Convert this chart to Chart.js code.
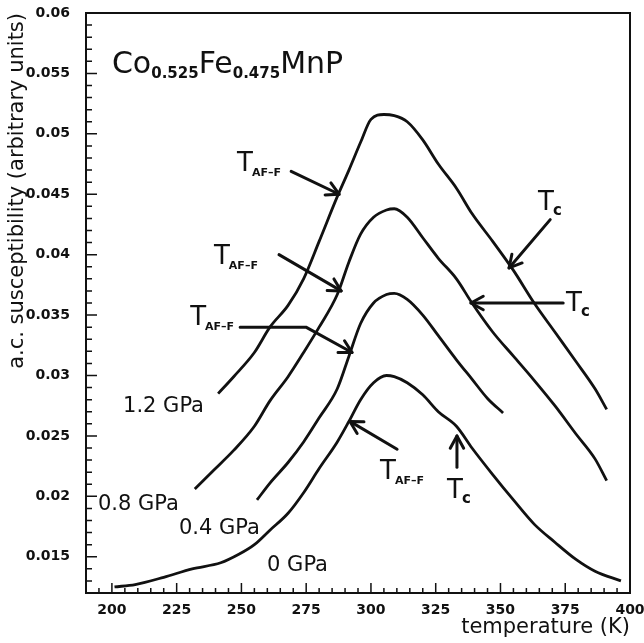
<!DOCTYPE html>
<html>
<head>
<meta charset="utf-8">
<script src="https://cdn.jsdelivr.net/npm/chart.js@4.4.1/dist/chart.umd.min.js"></script>
<style>
  html, body { margin: 0; padding: 0; background: #fff; }
  #wrap { width: 644px; height: 643px; position: relative; }
</style>
</head>
<body>
<div id="wrap"><canvas id="chart"></canvas></div>
<script>
// temperature (K) and a.c. susceptibility, one pair per pressure
const temp0GPa = [201, 209, 220, 231, 242, 249, 255, 261, 268, 274, 280, 287, 291.5, 296, 301, 306, 309, 314, 320, 326, 333, 339, 347, 355, 363, 371, 379, 386.5, 396.5];
const chi0GPa  = [0.0125, 0.0127, 0.0133, 0.0140, 0.0145, 0.0152, 0.0160, 0.0172, 0.0186, 0.0203, 0.0223, 0.0245, 0.0262, 0.0280, 0.0294, 0.0300, 0.0299, 0.0294, 0.0284, 0.0270, 0.0258, 0.0240, 0.0218, 0.0197, 0.0177, 0.0162, 0.0148, 0.0138, 0.0130];

const temp04GPa = [256, 261, 268, 274, 280, 287, 291.5, 296, 301, 306, 309, 314, 320, 326, 333, 339, 345, 351];
const chi04GPa  = [0.0197, 0.0211, 0.0228, 0.0245, 0.0265, 0.0289, 0.0316, 0.0343, 0.0360, 0.0367, 0.0368, 0.0363, 0.0350, 0.0333, 0.0313, 0.0297, 0.0281, 0.0269];

const temp08GPa = [232, 239, 247, 255, 261, 268, 274, 280, 287, 291.5, 296, 301, 306, 309, 314, 320, 326, 333, 339, 347, 355, 363, 371, 379, 386.5, 391];
const chi08GPa  = [0.0206, 0.0221, 0.0238, 0.0258, 0.0279, 0.0299, 0.0319, 0.0340, 0.0367, 0.0394, 0.0417, 0.0431, 0.0437, 0.0438, 0.0431, 0.0414, 0.0397, 0.0380, 0.0360, 0.0336, 0.0316, 0.0296, 0.0275, 0.0252, 0.0231, 0.0213];

const temp12GPa = [241, 247, 255, 261, 268, 274, 280, 287, 291.5, 296, 300, 305, 309, 314, 320, 326, 333, 339, 347, 355, 363, 371, 379, 386.5, 391];
const chi12GPa  = [0.0285, 0.0299, 0.0319, 0.0340, 0.0358, 0.0380, 0.0411, 0.0448, 0.0470, 0.0493, 0.0512, 0.0516, 0.0515, 0.0510, 0.0495, 0.0475, 0.0455, 0.0434, 0.0411, 0.0387, 0.0360, 0.0336, 0.0312, 0.0289, 0.0272];

const xTicks = [200, 225, 250, 275, 300, 325, 350, 375, 400];
const yTicks = [0.015, 0.02, 0.025, 0.03, 0.035, 0.04, 0.045, 0.05, 0.055, 0.06];

// curve labels: text, left edge (K), middle (susceptibility)
const pressureLabels = [
    { text: '1.2 GPa', x: 204.3, y: 0.0274 },
    { text: '0.8 GPa', x: 194.6, y: 0.0193 },
    { text: '0.4 GPa', x: 225.9, y: 0.0173 },
    { text: '0 GPa',   x: 259.9, y: 0.0143 }
];

// T labels: subscript, left edge, baseline
const transitionLabels = [
    { sub: 'AF–F', x: 248.3, y: 0.0469 },
    { sub: 'AF–F', x: 239.4, y: 0.0392 },
    { sub: 'AF–F', x: 230.2, y: 0.0342 },
    { sub: 'AF–F', x: 303.5, y: 0.0214 },
    { sub: 'c',    x: 364.5, y: 0.0437 },
    { sub: 'c',    x: 375.3, y: 0.0353 },
    { sub: 'c',    x: 329.4, y: 0.0199 }
];

// arrows as polylines, head at the last point
const arrows = [
    [[269.2, 0.0469], [287.7, 0.0450]],
    [[264.5, 0.0400], [288.5, 0.0370]],
    [[249.5, 0.0340], [274.9, 0.0340], [292.7, 0.0319]],
    [[310.1, 0.0239], [291.9, 0.0262]],
    [[369.2, 0.0429], [353.3, 0.0389]],
    [[374.2, 0.0360], [338.6, 0.0360]],
    [[333.2, 0.0224], [333.2, 0.0250]]
];

const compound = [
    { text: 'Co', sub: false }, { text: '0.525', sub: true },
    { text: 'Fe', sub: false }, { text: '0.475', sub: true },
    { text: 'MnP', sub: false }
];
const compoundPos = { x: 200.0, y: 0.0550 };

const INK = '#111';

function series(xs, ys) {
    return xs.map((t, i) => ({ x: t, y: ys[i] }));
}

function lineSet(label, xs, ys) {
    return {
        label: label,
        data: series(xs, ys),
        borderColor: INK,
        borderWidth: 2.8,
        pointRadius: 0,
        fill: false,
        cubicInterpolationMode: 'monotone'
    };
}

/**
 * Frame box with inward major/minor ticks
 */
const frameTicks = {
    id: 'frameTicks',
    afterDraw(chart) {
        const { ctx, chartArea: a, scales: { x, y } } = chart;
        ctx.save();
        ctx.strokeStyle = INK;
        ctx.lineWidth = 1.5;
        ctx.beginPath();
        for (let t = 195; t < 400; t += 5) {
            const px = x.getPixelForValue(t);
            const len = (t % 25 === 0) ? 10 : 5;
            ctx.moveTo(px, a.bottom);
            ctx.lineTo(px, a.bottom - len);
        }
        for (let k = 13; k < 60; k++) {
            const py = y.getPixelForValue(k / 1000);
            const len = (k % 5 === 0) ? 11 : 6;
            ctx.moveTo(a.left, py);
            ctx.lineTo(a.left + len, py);
        }
        ctx.stroke();
        ctx.lineWidth = 2;
        ctx.strokeRect(a.left, a.top, a.right - a.left, a.bottom - a.top);
        ctx.restore();
    }
};

function drawArrow(ctx, pts) {
    ctx.beginPath();
    ctx.moveTo(pts[0][0], pts[0][1]);
    for (let i = 1; i < pts.length; i++) ctx.lineTo(pts[i][0], pts[i][1]);
    ctx.stroke();
    const [x1, y1] = pts[pts.length - 2];
    const [x2, y2] = pts[pts.length - 1];
    const ang = Math.atan2(y2 - y1, x2 - x1);
    const h = 14, spread = 0.5;
    ctx.beginPath();
    ctx.moveTo(x2 - h * Math.cos(ang - spread), y2 - h * Math.sin(ang - spread));
    ctx.lineTo(x2, y2);
    ctx.lineTo(x2 - h * Math.cos(ang + spread), y2 - h * Math.sin(ang + spread));
    ctx.stroke();
}

/**
 * Text and arrow annotations placed in data units
 */
const annotations = {
    id: 'annotations',
    afterDatasetsDraw(chart) {
        const { ctx, scales: { x, y } } = chart;
        ctx.save();
        ctx.fillStyle = INK;
        ctx.strokeStyle = INK;
        ctx.textBaseline = 'alphabetic';
        ctx.textAlign = 'left';

        // compound formula
        let cx = x.getPixelForValue(compoundPos.x);
        const cy = y.getPixelForValue(compoundPos.y);
        compound.forEach(part => {
            ctx.font = part.sub ? 'bold 15px "DejaVu Sans"' : '30px "DejaVu Sans"';
            ctx.fillText(part.text, cx, part.sub ? cy + 5 : cy);
            cx += ctx.measureText(part.text).width;
        });

        // pressure labels
        ctx.font = '21px "DejaVu Sans"';
        ctx.textBaseline = 'middle';
        pressureLabels.forEach(l => {
            ctx.fillText(l.text, x.getPixelForValue(l.x), y.getPixelForValue(l.y));
        });

        // T labels
        ctx.textBaseline = 'alphabetic';
        transitionLabels.forEach(l => {
            const px = x.getPixelForValue(l.x);
            const py = y.getPixelForValue(l.y);
            ctx.font = '26px "DejaVu Sans"';
            ctx.fillText('T', px, py);
            const w = ctx.measureText('T').width;
            ctx.font = (l.sub === 'c' ? 'bold 15px' : 'bold 11px') + ' "DejaVu Sans"';
            ctx.fillText(l.sub, px + w - 1, py + 5);
        });

        // arrows
        ctx.lineWidth = 3;
        ctx.lineCap = 'round';
        ctx.lineJoin = 'round';
        arrows.forEach(a => {
            drawArrow(ctx, a.map(p => [x.getPixelForValue(p[0]), y.getPixelForValue(p[1])]));
        });
        ctx.restore();
    }
};

const tickFont = { family: 'DejaVu Sans', size: 14, weight: 'bold' };

new Chart(document.getElementById('chart').getContext('2d'), {
    type: 'line',
    data: {
        datasets: [
            lineSet('0 GPa', temp0GPa, chi0GPa),
            lineSet('0.4 GPa', temp04GPa, chi04GPa),
            lineSet('0.8 GPa', temp08GPa, chi08GPa),
            lineSet('1.2 GPa', temp12GPa, chi12GPa)
        ]
    },
    options: {
        responsive: true,
        maintainAspectRatio: false,
        animation: false,
        devicePixelRatio: 1,
        layout: { padding: { top: 13, right: 14, left: 0, bottom: 0 } },
        scales: {
            x: {
                type: 'linear',
                min: 190,
                max: 400,
                afterBuildTicks: s => { s.ticks = xTicks.map(v => ({ value: v })); },
                afterFit: s => { s.height = 50; s.paddingLeft = 0; s.paddingRight = 0; },
                ticks: {
                    font: tickFont,
                    color: INK,
                    padding: 9,
                    maxRotation: 0,
                    autoSkip: false
                },
                grid: { display: false, drawTicks: false },
                border: { display: false },
                title: {
                    display: true,
                    text: 'temperature (K)',
                    align: 'end',
                    color: INK,
                    font: { family: 'DejaVu Sans', size: 21 },
                    padding: { top: 0, bottom: 3 }
                }
            },
            y: {
                type: 'linear',
                min: 0.012,
                max: 0.06,
                afterBuildTicks: s => { s.ticks = yTicks.map(v => ({ value: v })); },
                afterFit: s => { s.width = 86; s.paddingTop = 0; s.paddingBottom = 0; },
                ticks: {
                    font: tickFont,
                    color: INK,
                    padding: 16,
                    callback: v => String(v)
                },
                grid: { display: false, drawTicks: false },
                border: { display: false },
                title: {
                    display: true,
                    text: 'a.c. susceptibility (arbitrary units)',
                    align: 'end',
                    color: INK,
                    font: { family: 'DejaVu Sans', size: 21 },
                    padding: { top: 5, bottom: 0 }
                }
            }
        },
        plugins: {
            legend: { display: false },
            tooltip: { enabled: false }
        }
    },
    plugins: [frameTicks, annotations]
});
</script>
</body>
</html>
